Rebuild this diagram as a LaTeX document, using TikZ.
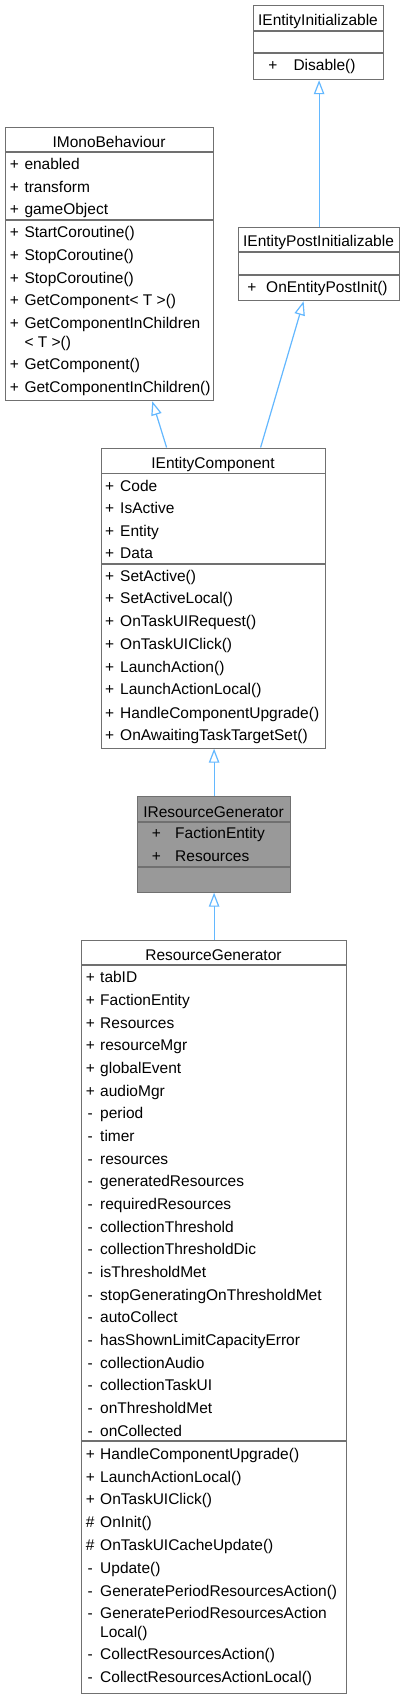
\documentclass[tikz,border=0pt]{standalone}
\usepackage{fontspec}
\setmainfont{Liberation Sans}
\usetikzlibrary{arrows.meta}
\definecolor{bordergray}{HTML}{707070}
\definecolor{edgeblue}{HTML}{63B8FF}
\definecolor{hlgray}{HTML}{999999}
\begin{document}
\begin{tikzpicture}[x=1pt,y=-1pt,
  box/.style={draw=bordergray,line width=1.2pt,fill=white,inner sep=0pt,anchor=north west},
  hlbox/.style={box,fill=hlgray},
  sepline/.style={draw=bordergray,line width=1.2pt},
  txt/.style={font=\fontsize{15.5}{18}\selectfont,inner sep=0pt,anchor=base west},
  ttl/.style={font=\fontsize{15.5}{18}\selectfont,inner sep=0pt,anchor=base},
  pfx/.style={font=\fontsize{15.5}{18}\selectfont,inner sep=0pt,anchor=base},
  inh/.style={draw=edgeblue,line width=1.2pt,-{Triangle[length=14pt,width=10.5pt,fill=white]}}]
\fill[white] (0,0) rectangle (405,1695);
\useasboundingbox (0,0) rectangle (405,1695);

% ---------- IEntityInitializable ----------
\node[box,minimum width=130pt,minimum height=74pt] (iei) at (253,5) {};
\draw[sepline] (253,31) -- (383,31);
\draw[sepline] (253,53) -- (383,53);
\node[ttl] (ieiT) at (318,25.5) {IEntityInitializable};
\node[pfx] (ieiP1) at (273,70.5) {+};
\node[txt] (ieiN1) at (293.3,70.5) {Disable()};

% ---------- IEntityPostInitializable ----------
\node[box,minimum width=161pt,minimum height=73pt] (iepi) at (238,227) {};
\draw[sepline] (238,252) -- (399,252);
\draw[sepline] (238,275) -- (399,275);
\node[ttl] (iepiT) at (318.5,246.2) {IEntityPostInitializable};
\node[pfx] (iepiP1) at (252,292.8) {+};
\node[txt] (iepiN1) at (266,292.8) {OnEntityPostInit()};

% ---------- IMonoBehaviour ----------
\node[box,minimum width=208pt,minimum height=273pt] (imb) at (5,127) {};
\draw[sepline] (5,152) -- (213,152);
\draw[sepline] (5,220) -- (213,220);
\node[ttl] (imbT) at (109,147.2) {IMonoBehaviour};
\foreach \yy/\pp/\nm [count=\i] in {164.3/+/enabled, 186.7/+/transform, 209.3/+/gameObject,
   232.3/+/StartCoroutine(), 255.3/+/StopCoroutine(), 277.7/+/StopCoroutine(),
   300.3/+/GetComponent< T >(), 323.0/+/GetComponentInChildren, 341.7/{}/< T >(),
   364.3/+/GetComponent(), 387.0/+/GetComponentInChildren()}{
  \node[pfx] (imbP\i) at (14.3,\yy+5.5) {\pp};
  \node[txt] (imbN\i) at (24.3,\yy+5.5) {\nm};
}

% ---------- IEntityComponent ----------
\node[box,minimum width=224pt,minimum height=300pt] (iec) at (101,447.5) {};
\draw[sepline] (101,473.3) -- (325,473.3);
\draw[sepline] (101,564) -- (325,564);
\node[ttl] (iecT) at (213,468.2) {IEntityComponent};
\foreach \yy/\pp/\nm [count=\i] in {485.7/+/Code, 508.3/+/IsActive, 531.3/+/Entity, 553.3/+/Data,
   575.7/+/SetActive(), 598.3/+/SetActiveLocal(), 621.3/+/OnTaskUIRequest(), 644.0/+/OnTaskUIClick(),
   667.0/+/LaunchAction(), 689.3/+/LaunchActionLocal(), 712.7/+/HandleComponentUpgrade(),
   735.0/+/OnAwaitingTaskTargetSet()}{
  \node[pfx] (iecP\i) at (109.7,\yy+5.5) {\pp};
  \node[txt] (iecN\i) at (120,\yy+5.5) {\nm};
}

% ---------- IResourceGenerator ----------
\node[hlbox,minimum width=153pt,minimum height=96pt] (irg) at (137,795.5) {};
\draw[sepline] (137,822) -- (290,822);
\draw[sepline] (137,867) -- (290,867);
\node[ttl] (irgT) at (213.5,817.2) {IResourceGenerator};
\node[pfx] (irgP1) at (156.3,838.8) {+};
\node[txt] (irgN1) at (175,838.8) {FactionEntity};
\node[pfx] (irgP2) at (156.3,861.5) {+};
\node[txt] (irgN2) at (175,861.5) {Resources};

% ---------- ResourceGenerator ----------
\node[box,minimum width=265pt,minimum height=753pt] (rg) at (81,940) {};
\draw[sepline] (81,965) -- (346,965);
\draw[sepline] (81,1441) -- (346,1441);
\node[ttl] (rgT) at (213.5,960.5) {ResourceGenerator};
\foreach \yy/\pp/\nm [count=\i] in {977.3/+/tabID, 1000.0/+/FactionEntity, 1022.6/+/Resources,
   1045.3/+/resourceMgr, 1068.0/+/globalEvent, 1090.7/+/audioMgr, 1113.3/-/period,
   1136.0/-/timer, 1158.7/-/resources, 1181.3/-/generatedResources, 1204.0/-/requiredResources,
   1226.7/-/collectionThreshold, 1249.3/-/collectionThresholdDic, 1272.0/-/isThresholdMet,
   1294.7/-/stopGeneratingOnThresholdMet, 1317.3/-/autoCollect, 1340.0/-/hasShownLimitCapacityError,
   1362.7/-/collectionAudio, 1385.3/-/collectionTaskUI, 1408.0/-/onThresholdMet, 1430.7/-/onCollected,
   1454.0/+/HandleComponentUpgrade(), 1476.7/+/LaunchActionLocal(), 1499.3/+/OnTaskUIClick(),
   1522.3/\#/OnInit(), 1545.0/\#/OnTaskUICacheUpdate(), 1567.7/-/Update(),
   1590.7/-/GeneratePeriodResourcesAction(), 1613.3/-/GeneratePeriodResourcesAction,
   1631.7/{}/Local(), 1654.3/-/CollectResourcesAction(), 1676.7/-/CollectResourcesActionLocal()}{
  \node[pfx] (rgP\i) at (90.3,\yy+5.5) {\pp};
  \node[txt] (rgN\i) at (100,\yy+5.5) {\nm};
}

% ---------- inheritance connectors ----------
\draw[inh] (iepi.north) -- (iepi.north |- iei.south);
\draw[inh] ([xshift=47pt]iec.north) -- ([xshift=-15.5pt]iepi.south);
\draw[inh] ([xshift=-47pt]iec.north) -- ([xshift=42.7pt]imb.south);
\draw[inh] (irg.north) -- (irg.north |- iec.south);
\draw[inh] (rg.north) -- (rg.north |- irg.south);
\end{tikzpicture}
\end{document}
